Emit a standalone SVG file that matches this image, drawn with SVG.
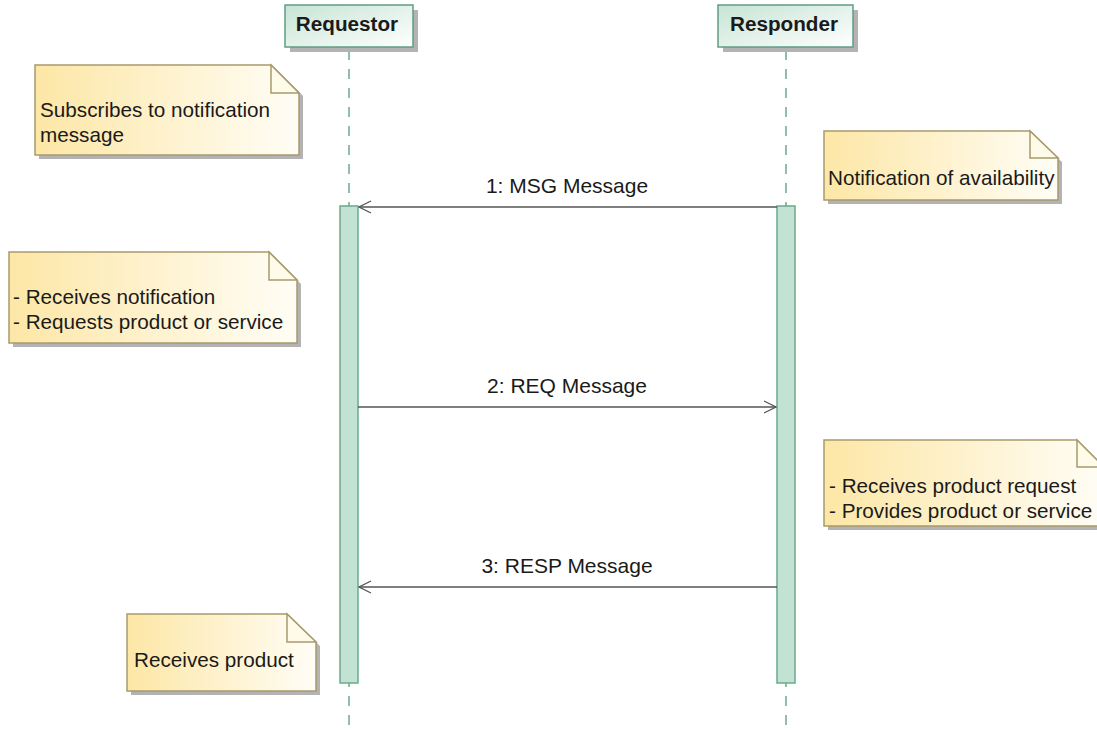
<svg xmlns="http://www.w3.org/2000/svg" width="1097" height="730" viewBox="0 0 1097 730">
<defs>
<linearGradient id="gHead" x1="0" y1="0" x2="1" y2="1">
<stop offset="0" stop-color="#c6e4d5"/>
<stop offset="1" stop-color="#ffffff"/>
</linearGradient>
<linearGradient id="gNote" x1="0" y1="0" x2="1" y2="0">
<stop offset="0" stop-color="#fde7a6"/>
<stop offset="1" stop-color="#fffdf6"/>
</linearGradient>
<marker id="open" markerWidth="14" markerHeight="14" refX="13" refY="7" orient="auto" markerUnits="userSpaceOnUse">
<path d="M1,1 L13,7 L1,13" fill="none" stroke="#555" stroke-width="1.3"/>
</marker>
</defs>
<style>
text{font-family:"Liberation Sans",Arial,sans-serif;fill:#1a1a1a}
.hd{font-weight:bold;font-size:20.7px}
.nt{font-size:20.7px}
.lb{font-size:21px}
.head{fill:url(#gHead);stroke:#5f9e83;stroke-width:1.5}
.shadow{fill:#b3b3b3}
.note{fill:url(#gNote);stroke:#a89a6c;stroke-width:1.5}
.fold{fill:#fffbe9;stroke:#a89a6c;stroke-width:1.5}
.life{stroke:#6aaa8c;stroke-width:1.5;stroke-dasharray:10 9;fill:none}
.act{fill:#c2e2d3;stroke:#6aaa8c;stroke-width:1.5}
.msg{stroke:#555;stroke-width:1.3;fill:none;marker-end:url(#open)}
</style>
<rect width="1097" height="730" fill="#ffffff"/>

<g id="requestor">
<line class="life" x1="349" y1="50" x2="349" y2="730"/>
<rect class="shadow" x="290" y="10" width="128" height="42"/>
<rect class="head" x="285" y="5" width="128" height="42"/>
<text class="hd" x="347" y="31" text-anchor="middle">Requestor</text>
<rect class="act" x="340" y="206" width="18" height="477"/>
</g>

<g id="responder">
<line class="life" x1="786" y1="50" x2="786" y2="730"/>
<rect class="shadow" x="723" y="10" width="135" height="42"/>
<rect class="head" x="718" y="5" width="135" height="42"/>
<text class="hd" x="784" y="31" text-anchor="middle">Responder</text>
<rect class="act" x="777" y="206" width="18" height="477"/>
</g>

<g id="connectors">
<line class="msg" x1="777" y1="207" x2="359" y2="207"/>
<text class="lb" x="567" y="193" text-anchor="middle">1: MSG Message</text>
<line class="msg" x1="358" y1="407" x2="776" y2="407"/>
<text class="lb" x="567" y="393" text-anchor="middle">2: REQ Message</text>
<line class="msg" x1="777" y1="587" x2="359" y2="587"/>
<text class="lb" x="567" y="573" text-anchor="middle">3: RESP Message</text>
</g>

<g id="note1">
<path class="shadow" d="M39,69 H276 L303,96 V159 H39 Z"/>
<path class="note" d="M35,65 H271 L299,93 V155 H35 Z"/>
<path class="fold" d="M271,65 V93 H299 Z"/>
<text class="nt" x="40" y="117">Subscribes to notification</text>
<text class="nt" x="40" y="142">message</text>
</g>

<g id="note2">
<path class="shadow" d="M828,135 H1034 L1062,162 V204 H828 Z"/>
<path class="note" d="M824,131 H1030 L1058,158 V200 H824 Z"/>
<path class="fold" d="M1030,131 V158 H1058 Z"/>
<text class="nt" x="828" y="185">Notification of availability</text>
</g>

<g id="note3">
<path class="shadow" d="M13,256 H273 L301,284 V347 H13 Z"/>
<path class="note" d="M9,252 H269 L297,280 V343 H9 Z"/>
<path class="fold" d="M269,252 V280 H297 Z"/>
<text class="nt" x="13" y="304">- Receives notification</text>
<text class="nt" x="13" y="329">- Requests product or service</text>
</g>

<g id="note4">
<path class="shadow" d="M828,444 H1081 L1104,467 V530 H828 Z"/>
<path class="note" d="M824,440 H1077 L1104,467 V526 H824 Z"/>
<path class="fold" d="M1077,440 V467 H1104 Z"/>
<text class="nt" x="829" y="493">- Receives product request</text>
<text class="nt" x="829" y="518">- Provides product or service</text>
</g>

<g id="note5">
<path class="shadow" d="M131,618 H291 L320,646 V695 H131 Z"/>
<path class="note" d="M127,614 H287 L316,642 V691 H127 Z"/>
<path class="fold" d="M287,614 V642 H316 Z"/>
<text class="nt" x="134" y="667">Receives product</text>
</g>
</svg>
